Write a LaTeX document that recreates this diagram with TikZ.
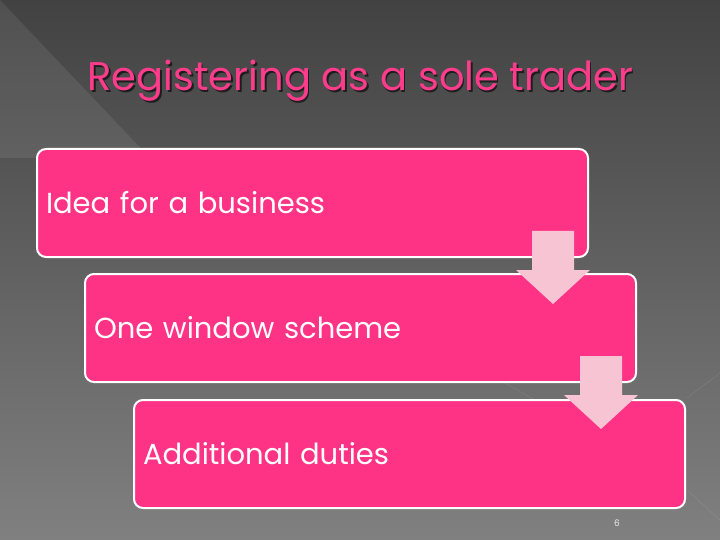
\documentclass[tikz,border=0pt]{standalone}
\usepackage{fontspec}
\setmainfont{Poppins}
\usepackage{tikz}
\usetikzlibrary{positioning, calc}

\definecolor{boxpink}{RGB}{255,51,133}
\definecolor{arrowpink}{RGB}{247,196,212}
\definecolor{titlepink}{RGB}{255,60,140}

\tikzset{
	stepbox/.style={rectangle, rounded corners=9pt, draw=white, line width=2pt, fill=boxpink,
		minimum width=551pt, minimum height=108pt, text width=533pt, align=left,
		inner xsep=9pt, anchor=north west, font=\fontsize{29}{34}\selectfont, text=white},
	flowarrow/.style={fill=arrowpink}
}

\begin{document}
\begin{tikzpicture}[x=1pt, y=-1pt]
	% Background
	\useasboundingbox (0,0) rectangle (720,540);
	\shade[top color={rgb,255:red,66;green,66;blue,66}, bottom color={rgb,255:red,128;green,128;blue,128}] (0,0) rectangle (720,540);
	\fill[white, opacity=0.08] (0,0) -- (150,158) -- (0,158) -- cycle;
	\draw[white, opacity=0.12] (505,383) -- (535,400);
	\draw[white, opacity=0.12] (687,398) -- (720,373);
	\draw[white, opacity=0.12] (687,490) -- (720,520);

	% Title
	\node[anchor=base west, text=black, opacity=0.6, font=\fontsize{40}{46}\selectfont] (shadow) at (85.5,92.5) {Registering as a sole trader};
	\node[anchor=base west, text=titlepink, font=\fontsize{40}{46}\selectfont] (title) at (84,91) {Registering as a sole trader};

	% Steps
	\node[stepbox] (idea) at (36,148) {Idea for a business};
	\node[stepbox] (window) at (84,273) {One window scheme};
	\node[stepbox] (duties) at (133,399) {Additional duties};

	% Arrows between steps
	\foreach \from in {idea, window} {
		\coordinate (a) at ($(\from.south east)+(-36,-27)$);
		\fill[flowarrow] ($(a)+(-21,0)$) -- ($(a)+(21,0)$) -- ($(a)+(21,39)$) -- ($(a)+(37,39)$)
			-- ($(a)+(0,73)$) -- ($(a)+(-37,39)$) -- ($(a)+(-21,39)$) -- cycle;
	}

	% Page number
	\node[text=white!85!gray, font=\fontsize{9}{10}\selectfont] (page) at (617,523) {6};
\end{tikzpicture}
\end{document}
